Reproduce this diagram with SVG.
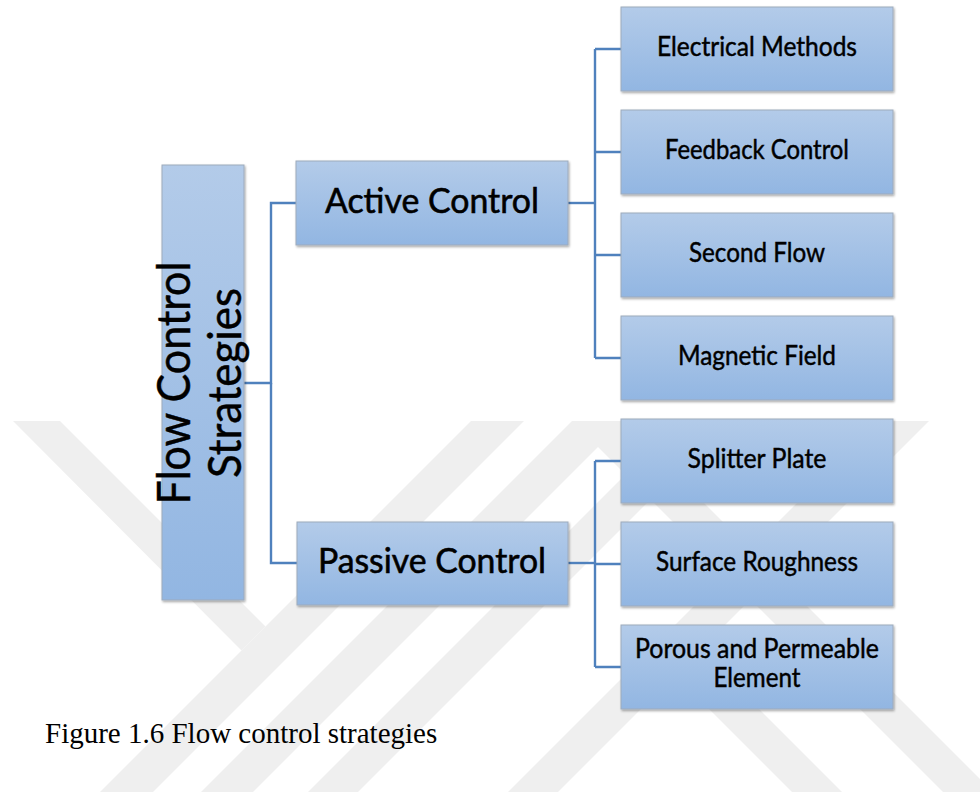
<svg xmlns="http://www.w3.org/2000/svg" width="980" height="792" viewBox="0 0 980 792">
  <defs>
    <linearGradient id="boxFill" x1="0" y1="0" x2="0" y2="1">
      <stop offset="0" stop-color="#b3cbe9"/>
      <stop offset="1" stop-color="#92b6e2"/>
    </linearGradient>
    <filter id="shadow" x="-5%" y="-5%" width="110%" height="115%">
      <feDropShadow dx="1" dy="1.5" stdDeviation="0.8" flood-color="#000" flood-opacity="0.35"/>
    </filter>
    <style>
      .box { fill: url(#boxFill); stroke: #9eabbc; stroke-width: 1; filter: url(#shadow); }
      .lbl { font-family: Lato, "Open Sans", "Liberation Sans", sans-serif; fill: #000; stroke: #000; stroke-width: 0.45; text-anchor: middle; }
      .big { font-size: 35px; stroke-width: 0.6; }
      .small { font-size: 26px; }
      .conn { fill: none; stroke: #4f81bd; stroke-width: 2.4; }
      .wm { fill: #efefef; }
      .caption { font-family: "Liberation Serif", "Times New Roman", serif; font-size: 29px; fill: #000; }
    </style>
  </defs>

  <rect width="980" height="792" fill="#ffffff"/>

  <!-- faint background emblem: 45-degree bands -->
  <g id="emblem">
    <polygon class="wm" points="13,421 60,421 265.5,626.5 241.5,650.5"/>
    <polygon class="wm" points="471,421 524,421 153,792 100,792"/>
    <polygon class="wm" points="572,421 624,421 253,792 201,792"/>
    <polygon class="wm" points="679,421 729,421 358,792 308,792"/>
    <polygon class="wm" points="572,421 622,421 993,792 943,792"/>
    <polygon class="wm" points="879,421 929,421 558,792 508,792"/>
    <polygon class="wm" points="650,650 675,625 842,792 792,792"/>
  </g>

  <!-- tree connectors -->
  <g id="connectors">
    <path class="conn" d="M244,383 H271 V203 H296"/>
    <path class="conn" d="M271,383 V563 H297"/>
    <path class="conn" d="M568,203 H595"/>
    <path class="conn" d="M595,49 V358"/>
    <path class="conn" d="M595,49 H621 M595,152 H621 M595,255 H621 M595,358 H621"/>
    <path class="conn" d="M568,563 H595"/>
    <path class="conn" d="M595,461 V667"/>
    <path class="conn" d="M595,461 H621 M595,564 H621 M595,667 H621"/>
  </g>

  <g id="root">
    <rect class="box" x="162" y="165" width="82" height="435"/>
    <text class="lbl" font-size="46" stroke-width="0.7" transform="translate(190,383) rotate(-90)" textLength="243" lengthAdjust="spacingAndGlyphs">Flow Control</text>
    <text class="lbl" font-size="46" stroke-width="0.7" transform="translate(241,383) rotate(-90)" textLength="190" lengthAdjust="spacingAndGlyphs">Strategies</text>
  </g>

  <g id="active">
    <rect class="box" x="296" y="161" width="272" height="84"/>
    <text class="lbl big" x="432" y="213" textLength="214" lengthAdjust="spacingAndGlyphs">Active Control</text>
  </g>

  <g id="passive">
    <rect class="box" x="297" y="522" width="271" height="83"/>
    <text class="lbl big" x="432" y="573" textLength="228" lengthAdjust="spacingAndGlyphs">Passive Control</text>
  </g>

  <g id="electrical">
    <rect class="box" x="621" y="7" width="272" height="84"/>
    <text class="lbl small" x="757" y="56" textLength="200" lengthAdjust="spacingAndGlyphs">Electrical Methods</text>
  </g>

  <g id="feedback">
    <rect class="box" x="621" y="110" width="272" height="84"/>
    <text class="lbl small" x="757" y="159" textLength="184" lengthAdjust="spacingAndGlyphs">Feedback Control</text>
  </g>

  <g id="second-flow">
    <rect class="box" x="621" y="213" width="272" height="84"/>
    <text class="lbl small" x="757" y="262" textLength="136" lengthAdjust="spacingAndGlyphs">Second Flow</text>
  </g>

  <g id="magnetic">
    <rect class="box" x="621" y="316" width="272" height="84"/>
    <text class="lbl small" x="757" y="365" textLength="158" lengthAdjust="spacingAndGlyphs">Magnetic Field</text>
  </g>

  <g id="splitter">
    <rect class="box" x="621" y="419" width="272" height="84"/>
    <text class="lbl small" x="757" y="468" textLength="139" lengthAdjust="spacingAndGlyphs">Splitter Plate</text>
  </g>

  <g id="roughness">
    <rect class="box" x="621" y="522" width="272" height="84"/>
    <text class="lbl small" x="757" y="571" textLength="202" lengthAdjust="spacingAndGlyphs">Surface Roughness</text>
  </g>

  <g id="porous">
    <rect class="box" x="621" y="625" width="272" height="84"/>
    <text class="lbl small" x="757" y="658" textLength="244" lengthAdjust="spacingAndGlyphs">Porous and Permeable</text>
    <text class="lbl small" x="757" y="687" textLength="87" lengthAdjust="spacingAndGlyphs">Element</text>
  </g>

  <text class="caption" x="45" y="743">Figure 1.6 Flow control strategies</text>
</svg>
